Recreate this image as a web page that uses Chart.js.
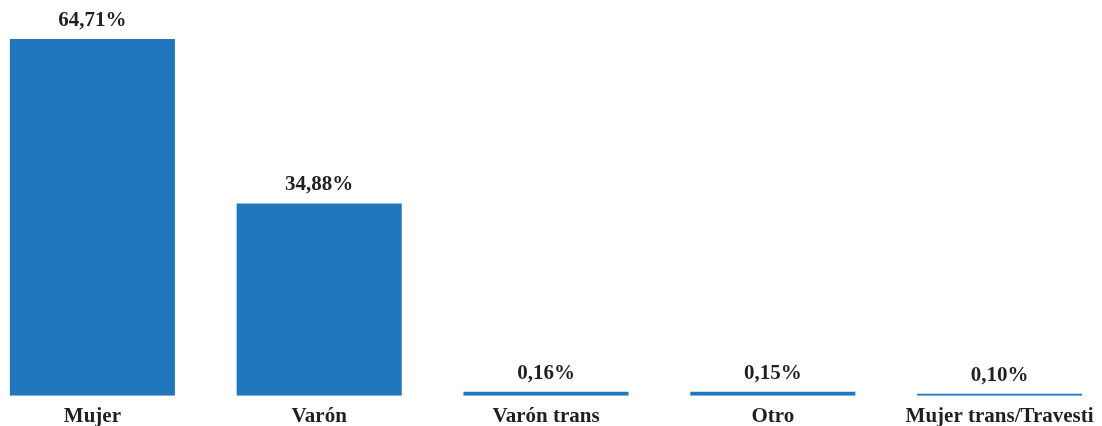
<!DOCTYPE html>
<html>
<head>
<meta charset="utf-8">
<script src="https://cdn.jsdelivr.net/npm/chart.js@4/dist/chart.umd.min.js"></script>
<style>
  html, body { margin: 0; padding: 0; background: #fff; overflow: hidden; width: 1102px; height: 426px; }
  #wrap { position: absolute; left: -21px; top: 0; width: 1134px; height: 429px; }
</style>
</head>
<body>
<div id="wrap"><canvas id="c"></canvas></div>
<script>
const categories = ["Mujer", "Varón", "Varón trans", "Otro", "Mujer trans/Travesti"];
const values = [64.71, 34.88, 0.16, 0.15, 0.10];
const valueLabels = ["64,71%", "34,88%", "0,16%", "0,15%", "0,10%"];

const BAR_COLOR = "#2077BD";
const TEXT_COLOR = "#231F20";
const FONT_FAMILY = "'Liberation Serif', 'Times New Roman', serif";

// very small bars are drawn with a visible minimum thickness, as in the reference
const mainData = values.map((v, i) => (i < 4 ? v : null));
const smallData = values.map((v, i) => (i === 4 ? v : null));

const labelPlugin = {
  id: "valueLabels",
  afterDatasetsDraw(chart) {
    const ctx = chart.ctx;
    ctx.save();
    ctx.font = "bold 21px " + FONT_FAMILY;
    ctx.fillStyle = TEXT_COLOR;
    ctx.textAlign = "center";
    ctx.textBaseline = "alphabetic";
    chart.data.datasets.forEach((ds, di) => {
      const meta = chart.getDatasetMeta(di);
      meta.data.forEach((bar, i) => {
        if (ds.data[i] === null || ds.data[i] === undefined) return;
        ctx.fillText(valueLabels[i], bar.x, bar.y - 13);
      });
    });
    ctx.restore();
  }
};

new Chart(document.getElementById("c"), {
  type: "bar",
  data: {
    labels: categories,
    datasets: [
      { data: mainData, backgroundColor: BAR_COLOR, minBarLength: 4, grouped: false,
        categoryPercentage: 1, barPercentage: 0.728 },
      { data: smallData, backgroundColor: BAR_COLOR, minBarLength: 2, grouped: false,
        categoryPercentage: 1, barPercentage: 0.728 }
    ]
  },
  options: {
    responsive: true,
    maintainAspectRatio: false,
    animation: false,
    layout: { padding: { top: 39, left: 0, right: 0, bottom: 0 } },
    plugins: { legend: { display: false }, tooltip: { enabled: false } },
    scales: {
      x: {
        grid: { display: false },
        border: { display: false },
        ticks: {
          color: TEXT_COLOR,
          font: { family: FONT_FAMILY, size: 21, weight: "bold" },
          padding: 0,
          maxRotation: 0,
          autoSkip: false
        }
      },
      y: {
        display: false,
        min: 0,
        max: 64.71
      }
    }
  },
  plugins: [labelPlugin]
});
</script>
</body>
</html>
